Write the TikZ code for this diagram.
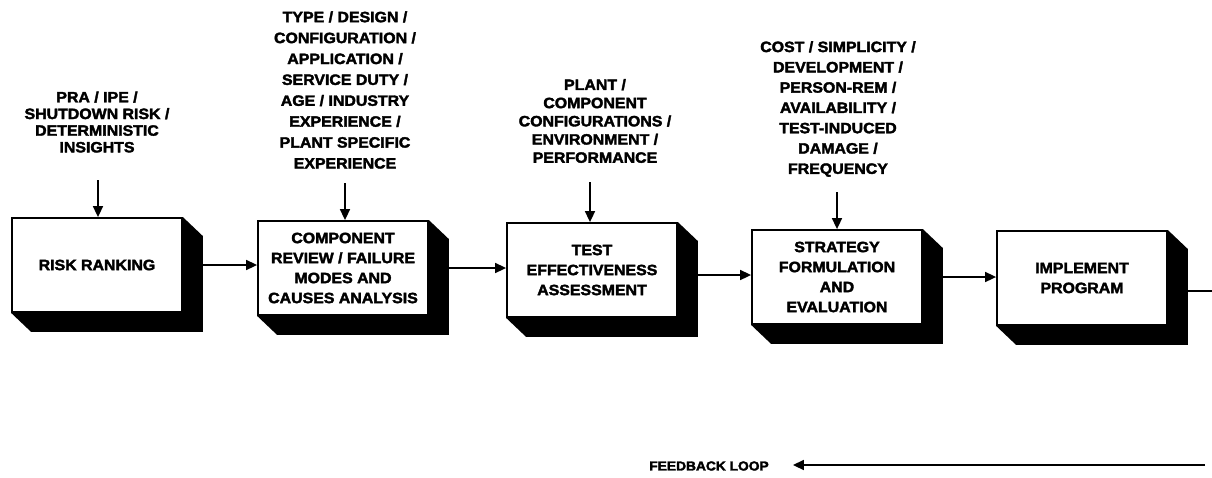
\documentclass[tikz,border=0pt]{standalone}
\usepackage{fontspec}
\newfontfamily\lblfont{Liberation Sans}[FakeStretch=1.06,FakeBold=2.4,
  BoldFeatures={FakeStretch=1.06,FakeBold=2.4}]
\usetikzlibrary{arrows.meta}

% extruded dark side of a stage block (right and bottom faces)
\newcommand\stageshadow[1]{%
  \fill (#1.north east) -- ++(20,19)
        -- ([shift={(20,19)}]#1.south east)
        -- ([shift={(20,19)}]#1.south west)
        -- (#1.south west) -- (#1.south east) -- cycle;}

\begin{document}
\begin{tikzpicture}[x=1pt,y=-1pt,
  lbl/.style={font=\lblfont\bfseries\fontsize{15}{#1}\selectfont,
              align=center, inner sep=0pt},
  lbl/.default=20,
  stage/.style={draw=black, line width=1.8pt, fill=white,
              minimum width=170pt, minimum height=94pt, inner sep=0pt,
              font=\lblfont\bfseries\fontsize{15}{20}\selectfont, align=center},
  link/.style={line width=1.6pt, -{Triangle[length=11pt,width=10pt]}},
  plain/.style={line width=1.6pt}]

\useasboundingbox (0,0) rectangle (1212,477);

% process stages
\node[stage] (b1) at (97,265)    {RISK RANKING};
\node[stage] (b2) at (343,268)   {COMPONENT\\REVIEW / FAILURE\\MODES AND\\CAUSES ANALYSIS};
\node[stage] (b3) at (592,270)   {TEST\\EFFECTIVENESS\\ASSESSMENT};
\node[stage] (b4) at (837,277)   {STRATEGY\\FORMULATION\\AND\\EVALUATION};
\node[stage] (b5) at (1082,278)  {IMPLEMENT\\PROGRAM};
\foreach \b in {b1,b2,b3,b4,b5} {\stageshadow{\b}}

% inputs feeding each stage
\node[lbl=16.7] (t1) at (97,122)  {PRA / IPE /\\SHUTDOWN RISK /\\DETERMINISTIC\\INSIGHTS};
\node[lbl=20.9] (t2) at (345,90)  {TYPE / DESIGN /\\CONFIGURATION /\\APPLICATION /\\SERVICE DUTY /\\AGE / INDUSTRY\\EXPERIENCE /\\PLANT SPECIFIC\\EXPERIENCE};
\node[lbl=18.2] (t3) at (595,121) {PLANT /\\COMPONENT\\CONFIGURATIONS /\\ENVIRONMENT /\\PERFORMANCE};
\node[lbl=20.3] (t4) at (838,109) {COST / SIMPLICITY /\\DEVELOPMENT /\\PERSON-REM /\\AVAILABILITY /\\TEST-INDUCED\\DAMAGE /\\FREQUENCY};

\coordinate (a1) at (98,180);
\coordinate (a2) at (345,183);
\coordinate (a3) at (590,182);
\coordinate (a4) at (837,192);
\draw[link] (a1) -- (a1 |- b1.north);
\draw[link] (a2) -- (a2 |- b2.north);
\draw[link] (a3) -- (a3 |- b3.north);
\draw[link] (a4) -- (a4 |- b4.north);

% stage-to-stage flow, leaving from the outer edge of each dark face
\coordinate (o1) at ([xshift=20pt]b1.east);
\coordinate (o2) at ([xshift=20pt]b2.east);
\coordinate (o3) at ([shift={(20,5)}]b3.east);
\coordinate (o4) at ([xshift=20pt]b4.east);
\draw[link] (o1) -- (o1 -| b2.west);
\draw[link] (o2) -- (o2 -| b3.west);
\draw[link] (o3) -- (o3 -| b4.west);
\draw[link] (o4) -- (o4 -| b5.west);

% output leaving the last stage
\coordinate (o5) at ([shift={(20,13)}]b5.east);
\coordinate (out) at (1212,291);
\draw[plain] (o5) -- (out);

% feedback loop
\node[lbl, font=\lblfont\bfseries\fontsize{13}{16}\selectfont] (fb) at (709,466) {FEEDBACK LOOP};
\coordinate (fbr) at (1205,465);
\coordinate (fbl) at ([xshift=24pt]fb.east);
\draw[link] (fbr) -- (fbl |- fbr);

\end{tikzpicture}
\end{document}
